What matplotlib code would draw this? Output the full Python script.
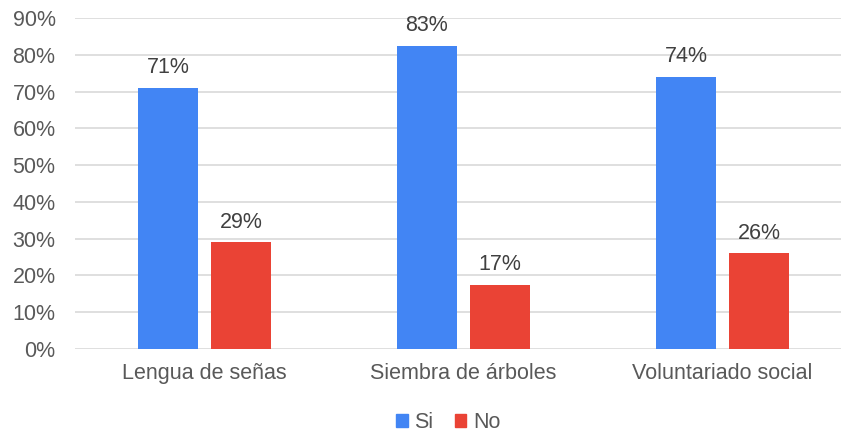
import numpy as np
import matplotlib.pyplot as plt
from matplotlib.patches import Patch

# datos del gráfico
categorias = ["Lengua de señas", "Siembra de árboles", "Voluntariado social"]
si = [0.71, 0.825, 0.74]
no = [0.29, 0.175, 0.26]
etiquetas_si = ["71%", "83%", "74%"]
etiquetas_no = ["29%", "17%", "26%"]

azul = "#4285F4"
rojo = "#EA4335"
gris = "#595959"

plt.rcParams['font.family'] = ['Liberation Sans', 'DejaVu Sans']

fig = plt.figure(figsize=(8.41, 4.33), dpi=100)
ax = fig.add_axes([75 / 841, 84 / 433, 777 / 841, 331 / 433])

x = np.arange(len(categorias))
ancho = 0.228
b1 = ax.bar(x - 0.141, si, ancho, color=azul, zorder=3)
b2 = ax.bar(x + 0.141, no, ancho, color=rojo, zorder=3)

# etiquetas encima de las barras
for barras, etiquetas in [(b1, etiquetas_si), (b2, etiquetas_no)]:
    for b, t in zip(barras, etiquetas):
        ax.annotate(t, (b.get_x() + b.get_width() / 2, b.get_height()),
                    xytext=(0, 7), textcoords="offset points",
                    ha="center", va="bottom", fontsize=15.5, color="#404040")

ax.set_ylim(0, 0.9)
ax.set_xlim(-0.5, 2.5)
ax.set_yticks(np.arange(0, 0.91, 0.1))
ax.set_yticklabels([f"{int(round(v * 100))}%" for v in np.arange(0, 0.91, 0.1)])
ax.set_xticks(x)
ax.set_xticklabels(categorias)
ax.tick_params(axis="both", length=0, labelsize=15.5, labelcolor=gris)
ax.tick_params(axis="y", pad=14)
ax.tick_params(axis="x", pad=10)
ax.grid(axis="y", color="#d9d9d9", linewidth=1.2, zorder=0)
for s in ax.spines.values():
    s.set_visible(False)

leyenda = [Patch(color=azul, label="Si"), Patch(color=rojo, label="No")]
fig.legend(handles=leyenda, loc="center", bbox_to_anchor=(448 / 841, 1 - 423 / 433),
           ncol=2, frameon=False, fontsize=15.5, handlelength=0.55, handleheight=0.55,
           handletextpad=0.3, columnspacing=1.0, labelcolor=gris)

fig.savefig("out.png", dpi=100)
